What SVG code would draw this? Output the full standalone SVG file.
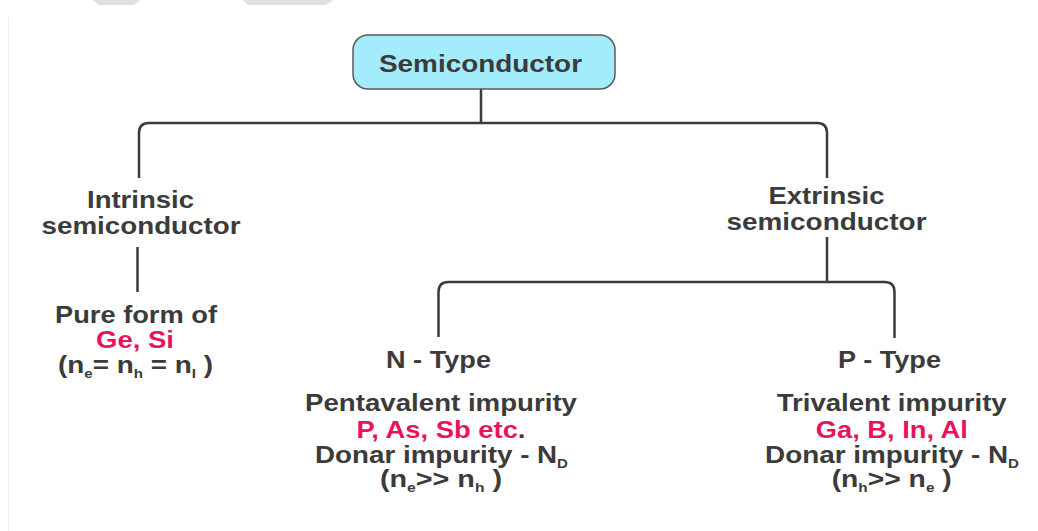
<svg xmlns="http://www.w3.org/2000/svg" width="1038" height="531" viewBox="0 0 1038 531">
<style>
.t{font-family:"Liberation Sans",Arial,sans-serif;font-weight:bold;font-size:24px;fill:#3b3b3b;text-anchor:middle}
.p{fill:#e8135e}
.s{font-size:13px}
.c{fill:none;stroke:#3b3b3b;stroke-width:2.5;stroke-linejoin:round}
</style>
<rect width="1038" height="531" fill="#ffffff"/>
<g id="backdrop">
<polygon points="93,0 140,0 134,5 99,5" fill="#e0e0e0"/>
<polygon points="243,0 333,0 326,5 248,5" fill="#e0e0e0"/>
<line x1="8.5" y1="17" x2="8.5" y2="531" stroke="#f0f0f0" stroke-width="1"/>
</g>
<g id="connectors">
<line class="c" x1="481" y1="89" x2="481" y2="123"/>
<path class="c" d="M139,178 V133 Q139,123 149,123 H817 Q827,123 827,133 V178"/>
<line class="c" x1="137.5" y1="247" x2="137.5" y2="292"/>
<line class="c" x1="827" y1="237" x2="827" y2="282"/>
<path class="c" d="M438.5,337 V292 Q438.5,282 448.5,282 H884.5 Q894.5,282 894.5,292 V338"/>
</g>
<g id="semiconductor">
<rect x="353" y="35" width="262" height="54" rx="15" fill="#a3ecfc" stroke="#5a5a5a" stroke-width="1.5"/>
<text class="t" x="480.5" y="72" textLength="203" lengthAdjust="spacingAndGlyphs">Semiconductor</text>
</g>
<g id="intrinsic">
<text class="t" x="140.5" y="207.5" textLength="107" lengthAdjust="spacingAndGlyphs">Intrinsic</text>
<text class="t" x="141" y="234" textLength="199" lengthAdjust="spacingAndGlyphs">semiconductor</text>
</g>
<g id="intrinsic-detail">
<text class="t" x="136" y="323" textLength="162" lengthAdjust="spacingAndGlyphs">Pure form of</text>
<text class="t p" x="135" y="348" textLength="78" lengthAdjust="spacingAndGlyphs">Ge, Si</text>
<text class="t" x="135.5" y="373" textLength="155" lengthAdjust="spacingAndGlyphs">(n<tspan class="s" dy="5">e</tspan><tspan dy="-5">= n</tspan><tspan class="s" dy="5">h</tspan><tspan dy="-5"> = n</tspan><tspan class="s" dy="5">I</tspan><tspan dy="-5"> )</tspan></text>
</g>
<g id="extrinsic">
<text class="t" x="826.5" y="203.5" textLength="116" lengthAdjust="spacingAndGlyphs">Extrinsic</text>
<text class="t" x="826.5" y="229.5" textLength="200" lengthAdjust="spacingAndGlyphs">semiconductor</text>
</g>
<g id="n-type">
<text class="t" x="438.5" y="367.5" textLength="105" lengthAdjust="spacingAndGlyphs">N - Type</text>
</g>
<g id="n-type-detail">
<text class="t" x="441" y="411" textLength="272" lengthAdjust="spacingAndGlyphs">Pentavalent impurity</text>
<text class="t" x="441" y="437.5" textLength="169" lengthAdjust="spacingAndGlyphs"><tspan class="p">P, As, Sb etc</tspan>.</text>
<text class="t" x="441.5" y="462.5" textLength="253" lengthAdjust="spacingAndGlyphs">Donar impurity - N<tspan class="s" dy="5">D</tspan></text>
<text class="t" x="441" y="487" textLength="122" lengthAdjust="spacingAndGlyphs">(n<tspan class="s" dy="5">e</tspan><tspan dy="-5">&gt;&gt; n</tspan><tspan class="s" dy="5">h</tspan><tspan dy="-5"> )</tspan></text>
</g>
<g id="p-type">
<text class="t" x="889.5" y="367.5" textLength="103" lengthAdjust="spacingAndGlyphs">P - Type</text>
</g>
<g id="p-type-detail">
<text class="t" x="891.7" y="411" textLength="230" lengthAdjust="spacingAndGlyphs">Trivalent impurity</text>
<text class="t p" x="891.8" y="437.5" textLength="152" lengthAdjust="spacingAndGlyphs">Ga, B, In, Al</text>
<text class="t" x="892" y="462.5" textLength="254" lengthAdjust="spacingAndGlyphs">Donar impurity - N<tspan class="s" dy="5">D</tspan></text>
<text class="t" x="891.7" y="487" textLength="120" lengthAdjust="spacingAndGlyphs">(n<tspan class="s" dy="5">h</tspan><tspan dy="-5">&gt;&gt; n</tspan><tspan class="s" dy="5">e</tspan><tspan dy="-5"> )</tspan></text>
</g>
</svg>
